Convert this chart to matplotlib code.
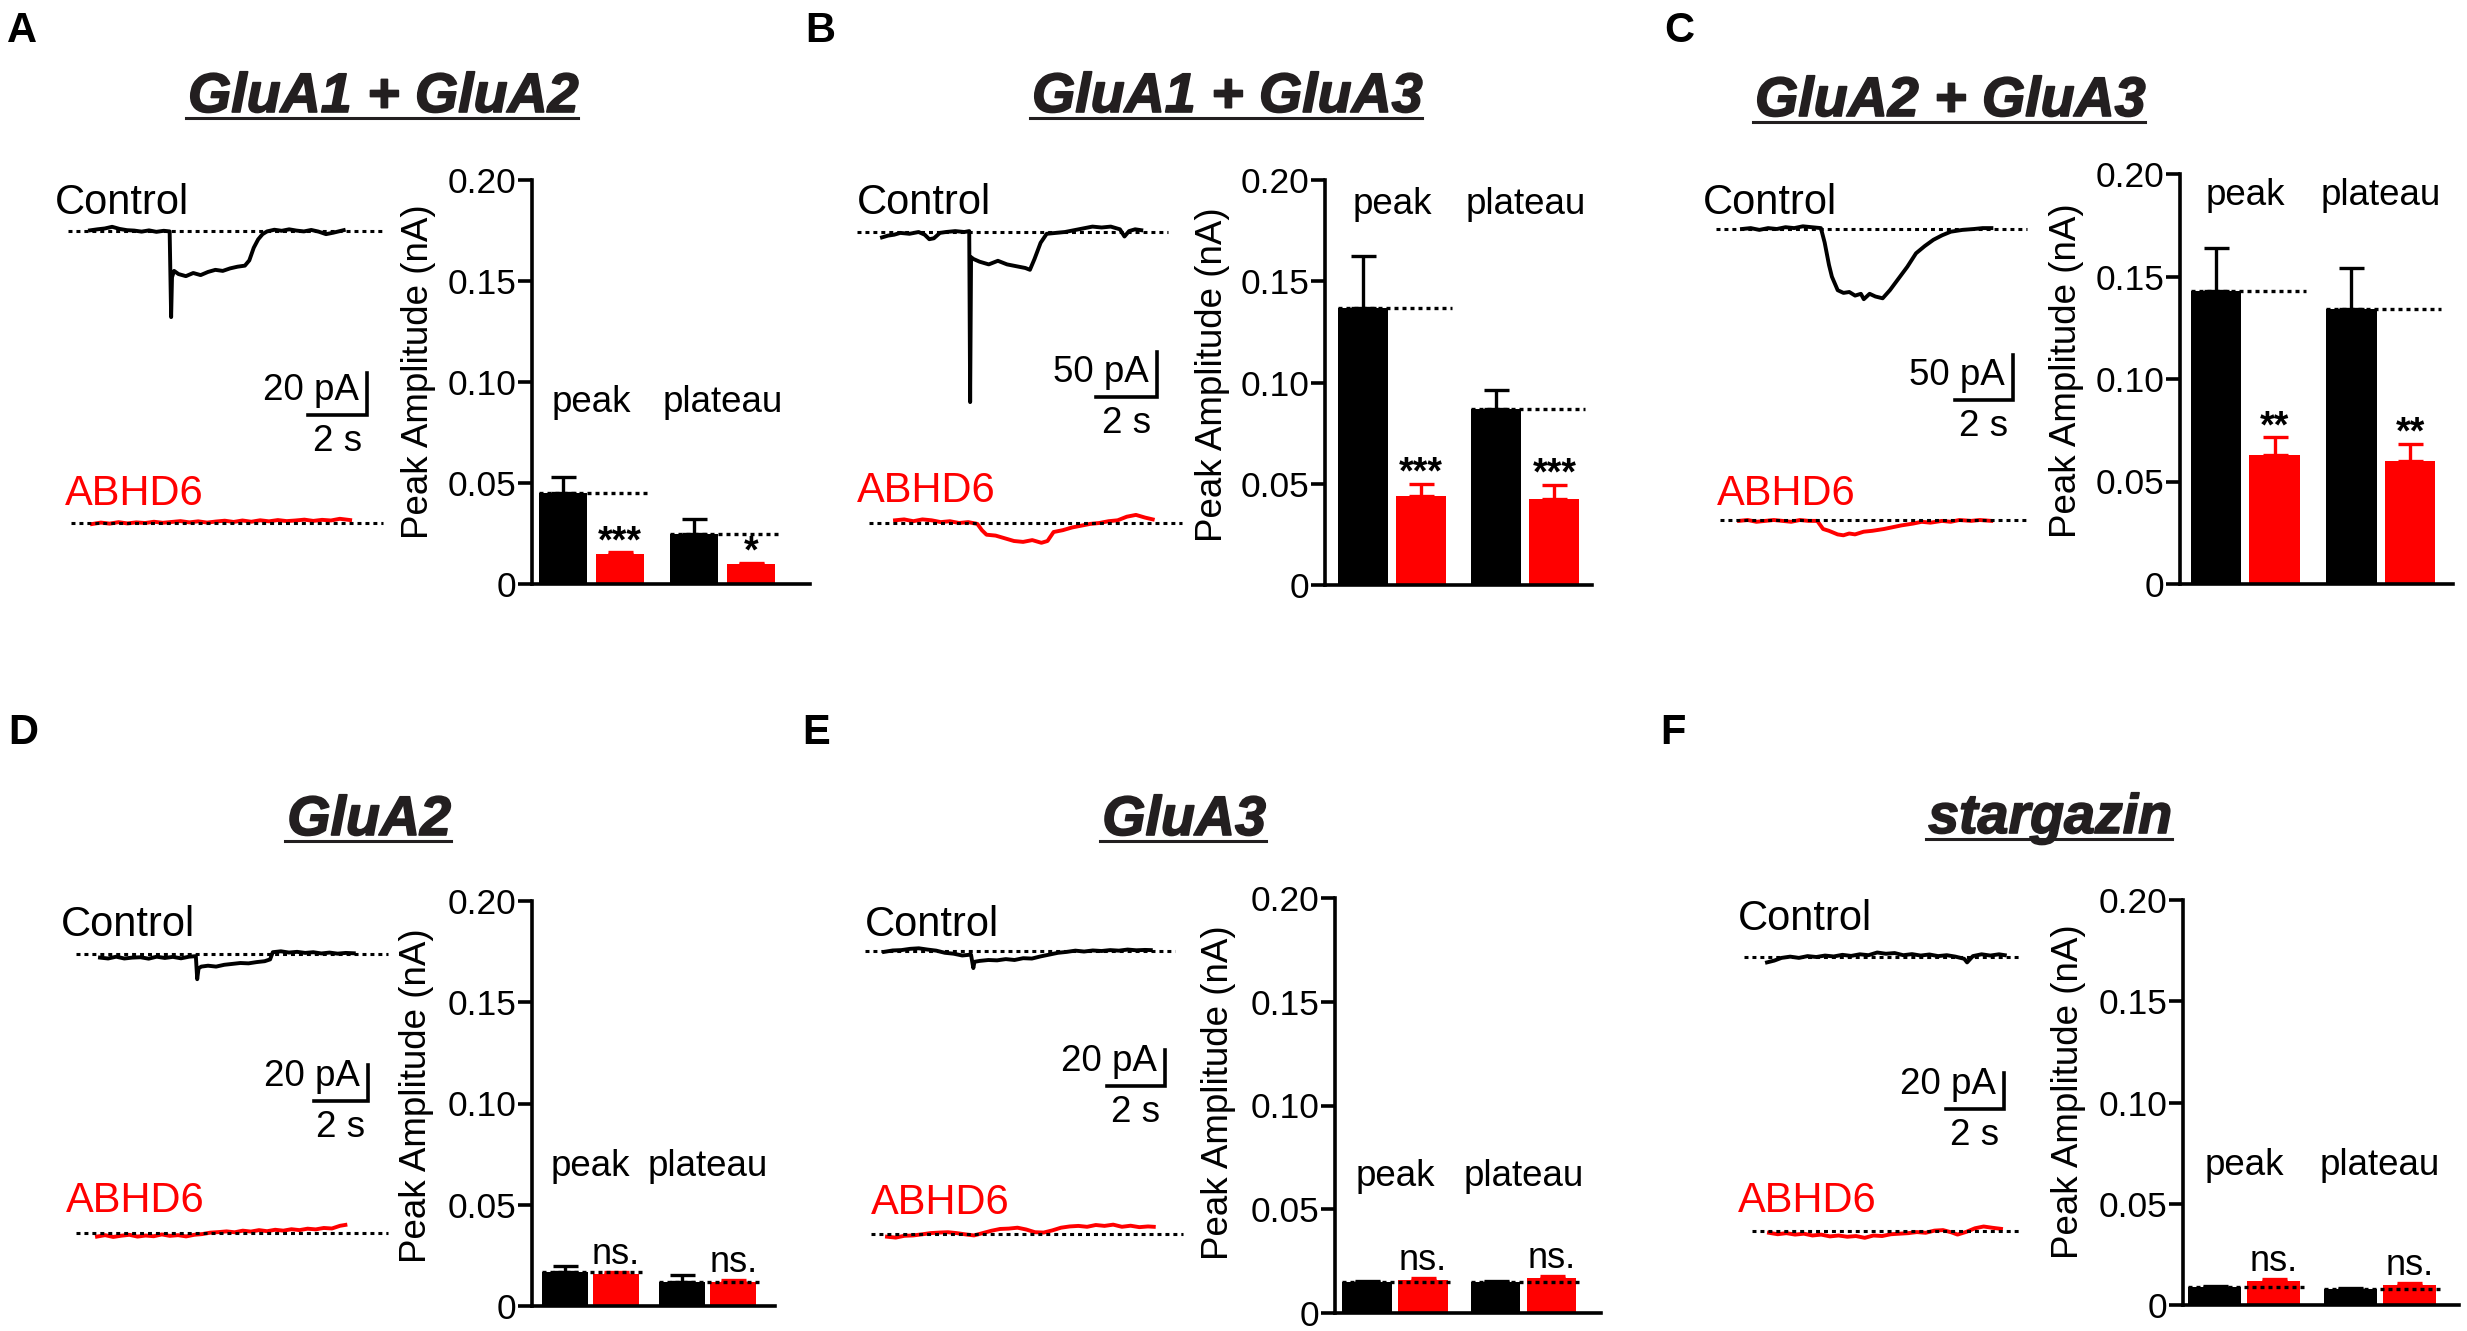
import numpy as np
import matplotlib
matplotlib.use('Agg')
import matplotlib.pyplot as plt
import matplotlib.patheffects as pe
from matplotlib.lines import Line2D

plt.rcParams['font.family'] = ['Liberation Sans', 'DejaVu Sans']

W, H = 2467, 1331
RED = '#ff0000'
INK = '#231f20'

panels = ['A', 'B', 'C', 'D', 'E', 'F']
titles = ['GluA1 + GluA2', 'GluA1 + GluA3', 'GluA2 + GluA3', 'GluA2', 'GluA3', 'stargazin']
groups = ['peak', 'plateau']

# bar data (nA), one value per panel A-F
ctrl_peak = [0.045, 0.137, 0.143, 0.017, 0.015, 0.009]
ctrl_peak_sem = [0.008, 0.0255, 0.021, 0.003, 0.0006, 0.0006]
abhd_peak = [0.015, 0.044, 0.063, 0.016, 0.016, 0.012]
abhd_peak_sem = [0.0006, 0.006, 0.0085, 0.0006, 0.0008, 0.0008]
ctrl_plat = [0.025, 0.087, 0.134, 0.012, 0.015, 0.008]
ctrl_plat_sem = [0.007, 0.0095, 0.020, 0.0033, 0.0006, 0.0006]
abhd_plat = [0.010, 0.0425, 0.060, 0.012, 0.017, 0.010]
abhd_plat_sem = [0.0006, 0.007, 0.0085, 0.0006, 0.0008, 0.0008]
sig_peak = ['***', '***', '**', 'ns.', 'ns.', 'ns.']
sig_plat = ['*', '***', '**', 'ns.', 'ns.', 'ns.']
yticks = [0, 0.05, 0.10, 0.15, 0.20]
yticklabels = ['0', '0.05', '0.10', '0.15', '0.20']

# example traces, (time s, current pA)
a_ctrl = [(0, .3), (.25, .8), (.5, 1.2), (.75, 2.0), (1.0, 1.0), (1.25, .4), (1.5, .2), (1.75, -.3),
          (2.0, .3), (2.25, -.4), (2.5, .1), (2.7, -.2), (2.75, -41), (2.78, -22), (2.85, -19),
          (3.0, -20.5), (3.25, -21.5), (3.5, -20), (3.75, -21), (4.0, -19.5), (4.25, -18.5),
          (4.5, -19), (4.75, -17.8), (5.0, -17), (5.25, -16.5), (5.4, -14), (5.55, -8), (5.7, -4),
          (5.85, -1.5), (6.0, -.2), (6.25, .6), (6.5, .1), (6.75, .8), (7.0, .2), (7.25, -.2),
          (7.5, .5), (7.75, -.3), (8.0, -1.5), (8.25, -.8), (8.6, .4)]
a_abhd = [(0, -.5), (.3, .2), (.6, -.3), (.9, .4), (1.2, -.2), (1.5, .3), (1.8, 0), (2.1, .6),
          (2.4, .1), (2.7, .5), (3.0, .9), (3.3, .3), (3.6, .8), (3.9, .2), (4.2, .7), (4.5, 1.1),
          (4.8, .5), (5.1, 1.2), (5.4, .6), (5.7, 1.3), (6.0, .8), (6.3, 1.4), (6.6, .9), (6.9, 1.2),
          (7.2, 1.6), (7.5, 1.0), (7.8, 1.5), (8.1, 1.2), (8.4, 2.0), (8.75, 1.4)]
b_ctrl = [(0, -6), (.2, -4), (.4, -3), (.6, -1), (.9, -2), (1.2, 0), (1.4, -3), (1.55, -8), (1.7, -7),
          (1.9, -1), (2.1, 0), (2.4, 1), (2.7, 0), (2.86, 1), (2.89, -189), (2.92, -28), (3.0, -30),
          (3.2, -33), (3.5, -36), (3.8, -32), (4.1, -36), (4.4, -38), (4.7, -40), (4.85, -42),
          (5.0, -30), (5.2, -12), (5.4, -2), (5.7, -1), (6.0, 0), (6.3, 2), (6.6, 4), (6.9, 6),
          (7.2, 5), (7.5, 6), (7.8, 3), (7.95, -5), (8.1, 1), (8.3, 3), (8.5, 2)]
b_abhd = [(0, 3), (.3, 4), (.6, 2), (.9, 4), (1.2, 3), (1.5, 1), (1.8, 2), (2.1, 0), (2.4, 1), (2.7, -1),
          (2.85, -8), (3.0, -13), (3.3, -14), (3.6, -17), (3.9, -20), (4.2, -21), (4.5, -19),
          (4.8, -22), (5.0, -20), (5.2, -10), (5.5, -8), (5.8, -5), (6.1, -3), (6.4, -1), (6.7, 0),
          (7.0, 2), (7.3, 3), (7.6, 7), (7.9, 9), (8.2, 6), (8.45, 4)]
c_ctrl = [(0, 0), (.3, 1), (.6, -1), (.9, 1), (1.2, 0), (1.5, 2), (1.8, 1), (2.1, 3), (2.4, 2),
          (2.72, 1), (2.85, -15), (3.0, -40), (3.1, -53), (3.3, -68), (3.5, -71), (3.7, -70),
          (3.9, -74), (4.1, -72), (4.2, -78), (4.4, -72), (4.6, -75), (4.85, -77), (5.1, -68),
          (5.4, -55), (5.7, -42), (6.0, -27), (6.3, -19), (6.6, -12), (6.9, -7), (7.2, -3),
          (7.6, -1), (8.0, 0), (8.3, 1), (8.6, 1)]
c_abhd = [(0, -1), (.3, 0), (.6, -2), (.9, -1), (1.2, 0), (1.5, -1), (1.8, -2), (2.1, 0), (2.4, -1),
          (2.7, -1), (2.9, -10), (3.1, -12), (3.4, -16), (3.6, -17), (3.8, -15), (4.0, -16),
          (4.3, -13), (4.6, -12), (5.0, -10), (5.3, -8), (5.6, -6), (6.0, -4), (6.3, -2), (6.6, -3),
          (7.0, -1), (7.3, -2), (7.6, 0), (8.0, -1), (8.3, 0), (8.7, -1)]
d_ctrl = [(0, -2), (.3, -2.5), (.6, -1.5), (.9, -2.5), (1.2, -2), (1.5, -1.8), (1.8, -2.6),
          (2.1, -1.5), (2.4, -2.2), (2.7, -1.6), (3.0, -2.4), (3.3, -1.5), (3.55, -1.2), (3.6, -14),
          (3.65, -8), (3.75, -7), (4.0, -6.5), (4.3, -7), (4.6, -6), (4.9, -5.5), (5.2, -5),
          (5.5, -5.2), (5.8, -4.5), (6.1, -4), (6.3, -3), (6.4, 1), (6.7, 1.5), (7.0, .8), (7.3, 1.2),
          (7.6, .6), (7.9, 1), (8.2, .3), (8.5, .8), (8.8, .2), (9.1, .6), (9.4, .4)]
d_abhd = [(0, -2), (.3, -1.2), (.6, -2.2), (.9, -1.5), (1.2, -1), (1.5, -2), (1.8, -1.4), (2.1, -1.8),
          (2.4, -.8), (2.7, -1.6), (3.0, -1.2), (3.3, -1.9), (3.6, -1), (3.9, -.6), (4.2, .2),
          (4.5, .5), (4.8, .9), (5.1, .4), (5.4, 1.3), (5.7, .8), (6.0, 1.6), (6.3, 1), (6.6, 1.8),
          (6.9, 1.3), (7.2, 2.1), (7.5, 1.6), (7.8, 2.4), (8.1, 2), (8.4, 2.8), (8.7, 2.5),
          (9.0, 4), (9.2, 4.5)]
e_ctrl = [(0, -.5), (.3, .3), (.6, .5), (.9, 1.2), (1.2, 1.5), (1.5, .8), (1.8, .2), (2.1, -1),
          (2.4, -1.5), (2.7, -2.5), (3.0, -2), (3.08, -9.5), (3.12, -6), (3.3, -5.5), (3.6, -5),
          (3.9, -5.2), (4.2, -4.5), (4.5, -5), (4.8, -4), (5.1, -4.2), (5.4, -3), (5.7, -2),
          (6.0, -1), (6.3, -.5), (6.6, .2), (6.9, -.3), (7.2, .3), (7.5, 0), (7.8, .5), (8.1, .2),
          (8.4, .8), (8.7, .4), (9.0, .6), (9.2, .5)]
e_abhd = [(0, -1.5), (.3, -2), (.6, -1), (.9, -.8), (1.2, -.2), (1.5, .5), (1.8, .8), (2.1, 1),
          (2.4, .5), (2.7, -.2), (3.0, -.8), (3.3, .5), (3.6, 1.8), (3.9, 2.8), (4.2, 3), (4.5, 3.5),
          (4.8, 2.5), (5.1, 1), (5.4, .8), (5.7, 2), (6.0, 3.5), (6.3, 4.2), (6.6, 4.5), (6.9, 4),
          (7.2, 5), (7.5, 4.5), (7.8, 5.2), (8.1, 4), (8.4, 4.6), (8.7, 3.8), (9.0, 4.2), (9.2, 4)]
f_ctrl = [(0, -3), (.25, -2), (.5, -.5), (.8, .2), (1.1, -.5), (1.4, .5), (1.7, 0), (2.0, .8),
          (2.3, .3), (2.6, 1.2), (2.9, .6), (3.2, 1.5), (3.5, 1), (3.8, 2.5), (4.1, 1.8), (4.4, 2.2),
          (4.7, 1), (5.0, 1.6), (5.3, .8), (5.6, 1.4), (5.9, .5), (6.2, 1), (6.5, .2), (6.8, -1),
          (6.9, -3), (7.1, .5), (7.4, 1.5), (7.7, .8), (8.0, 1.5), (8.2, 1)]
f_abhd = [(0, -1), (.3, -1.8), (.6, -1.2), (.9, -2), (1.2, -1.5), (1.5, -2.5), (1.8, -2), (2.1, -3),
          (2.4, -2.5), (2.7, -3.2), (3.0, -2.8), (3.3, -3.8), (3.6, -2.5), (3.9, -2.8), (4.2, -1.8),
          (4.5, -1.5), (4.8, -1.2), (5.1, -.6), (5.4, -1), (5.7, .2), (6.0, .5), (6.3, -.8),
          (6.5, -2), (6.8, -.5), (7.1, 1.5), (7.4, 2.5), (7.7, 1.8), (8.0, 1.2)]
ctrl_traces = [a_ctrl, b_ctrl, c_ctrl, d_ctrl, e_ctrl, f_ctrl]
abhd_traces = [a_abhd, b_abhd, c_abhd, d_abhd, e_abhd, f_abhd]
scale_pA = [20, 50, 50, 20, 20, 20]
scale_s = 2

# ---- layout (pixels, origin top left) ----
letter_xy = [(7, 42), (805, 42), (1664, 42), (8, 744), (802, 744), (1660, 744)]
title_xy = [(383, 112), (1227, 112), (1950, 116), (369, 835), (1184, 835), (2050, 833)]
bar_box = [(532, 180, 810, 584), (1325, 180, 1592, 585), (2180, 174, 2453, 584),
           (532, 901, 775, 1306), (1335, 898, 1601, 1313), (2183, 900, 2459, 1305)]
bar_xlim = [(-0.544, 4.33), (-0.655, 3.95), (-0.61, 4.03), (-0.65, 4.12), (-0.57, 4.18), (-0.54, 4.14)]
bar_w = [0.85, 0.86, 0.86, 0.9, 0.88, 0.9]
ylab_xy = [(418, 372), (1213, 375), (2066, 371), (417, 1096), (1218, 1093), (2069, 1092)]
group_y = [0.085, 0.183, 0.185, 0.064, 0.061, 0.064]
# trace origin (t=0, 0 pA) for control and ABHD6, px per s, px per pA
ctrl_org = [(90, 231), (882, 232), (1742, 229), (100, 954), (884, 951), (1767, 957)]
abhd_org = [(92, 523), (895, 523), (1739, 520), (97, 1233), (887, 1234), (1769, 1231)]
px_s = [29.5, 30.5, 29, 27, 29, 29]
px_pA = [2.1, 0.9, 0.9, 1.8, 1.8, 1.8]
ctrl_dots = [(-0.75, 9.9), (-0.82, 9.38), (-0.9, 9.83), (-0.89, 10.67), (-0.66, 10.03), (-0.79, 8.8)]
abhd_dots = [(-0.7, 9.85), (-0.85, 9.41), (-0.66, 9.97), (-0.78, 10.78), (-0.55, 10.2), (-0.59, 8.69)]
ctrl_lab = [(55, 214), (857, 214), (1703, 214), (61, 936), (865, 936), (1738, 930)]
abhd_lab = [(65, 505), (857, 502), (1717, 505), (66, 1212), (871, 1214), (1738, 1212)]
sbar_xy = [(367, 415), (1157, 397), (2013, 400), (368, 1101), (1165, 1086), (2004, 1109)]

fig = plt.figure(figsize=(W / 100, H / 100), dpi=100)


def px_rect(x0, y0, x1, y1):
    return [x0 / W, 1 - y1 / H, (x1 - x0) / W, (y1 - y0) / H]


def ftext(x, y, s, **kw):
    return fig.text(x / W, 1 - y / H, s, **kw)


def trace_axes(x0, y0, sx, sy):
    left, right, top, bot = x0 - 80, x0 + 380, y0 - 220, y0 + 220
    ax = fig.add_axes(px_rect(left, top, right, bot))
    ax.set_xlim((left - x0) / sx, (right - x0) / sx)
    ax.set_ylim(-(bot - y0) / sy, (y0 - top) / sy)
    ax.axis('off')
    ax.patch.set_visible(False)
    return ax


title_texts = []
for k, p in enumerate(panels):
    # panel letter and title
    ftext(*letter_xy[k], p, fontsize=30, fontweight='bold', ha='left', va='baseline')
    tt = ftext(*title_xy[k], titles[k], fontsize=40, fontweight='bold', fontstyle='italic',
               color=INK, ha='center', va='baseline',
               path_effects=[pe.withStroke(linewidth=1.2, foreground=INK)])
    title_texts.append((tt, title_xy[k][1]))

    # traces
    sx, sy = px_s[k], px_pA[k]
    axc = trace_axes(*ctrl_org[k], sx, sy)
    t, i = np.array(ctrl_traces[k]).T
    axc.plot(t, i, color='black', lw=2.8, clip_on=False, zorder=2)
    axc.plot(ctrl_dots[k], [0, 0], color='black', lw=2.2, ls=(0, (1.3, 1.3)), zorder=3)
    axa = trace_axes(*abhd_org[k], sx, sy)
    t, i = np.array(abhd_traces[k]).T
    axa.plot(t, i, color=RED, lw=2.8, clip_on=False, zorder=2)
    axa.plot(abhd_dots[k], [0, 0], color='black', lw=2.2, ls=(0, (1.3, 1.3)), zorder=3)

    # scale bar, drawn in control-trace data units
    cx, cy = sbar_xy[k]
    t0 = (cx - ctrl_org[k][0]) / sx
    i0 = -(cy - ctrl_org[k][1]) / sy
    axc.plot([t0 - scale_s, t0, t0], [i0, i0, i0 + scale_pA[k]], color='black', lw=2.6,
             solid_joinstyle='miter', clip_on=False)
    ftext(cx - 8, cy - 15, f'{scale_pA[k]} pA', fontsize=26.5, ha='right', va='baseline')
    ftext(cx - scale_s * sx / 2, cy + 36, f'{scale_s} s', fontsize=26.5, ha='center', va='baseline')

    ftext(*ctrl_lab[k], 'Control', fontsize=30, ha='left', va='baseline')
    ftext(*abhd_lab[k], 'ABHD6', fontsize=30, color=RED, ha='left', va='baseline')

    # bar chart
    ax = fig.add_axes(px_rect(*bar_box[k]))
    ax.patch.set_visible(False)
    pos = [0, 1, 2.3, 3.3]
    vals = [ctrl_peak[k], abhd_peak[k], ctrl_plat[k], abhd_plat[k]]
    sems = [ctrl_peak_sem[k], abhd_peak_sem[k], ctrl_plat_sem[k], abhd_plat_sem[k]]
    cols = ['black', RED, 'black', RED]
    bw = bar_w[k]
    ax.bar(pos, vals, width=bw, color=cols, zorder=2)
    for x, v, e, c in zip(pos, vals, sems, cols):
        ax.errorbar(x, v, yerr=[[0], [e]], fmt='none', ecolor=c, elinewidth=2.4,
                    capsize=9, capthick=2.4, zorder=1)
    for g in range(2):
        v = vals[2 * g]
        ax.plot([pos[2 * g] - bw / 2, pos[2 * g + 1] + bw / 2 + 0.1], [v, v], color='black',
                lw=2.4, ls=(0, (1.2, 1.2)), zorder=3)
        ax.text((pos[2 * g] + pos[2 * g + 1]) / 2, group_y[k], groups[g], fontsize=26.5,
                ha='center', va='baseline')
        sig = [sig_peak, sig_plat][g][k]
        top = vals[2 * g + 1] + sems[2 * g + 1]
        if sig == 'ns.':
            ax.text(pos[2 * g + 1], top + 0.004, sig, fontsize=26, ha='center', va='baseline')
        else:
            ax.text(pos[2 * g + 1], top, sig, fontsize=27, fontweight='bold',
                    ha='center', va='baseline')
    ax.set_xlim(*bar_xlim[k])
    ax.set_ylim(0, 0.2)
    ax.set_xticks([])
    ax.set_yticks(yticks)
    ax.set_yticklabels(yticklabels)
    ax.tick_params(axis='y', length=10, width=2.6, labelsize=25.5, pad=1)
    for s in ['top', 'right']:
        ax.spines[s].set_visible(False)
    for s in ['left', 'bottom']:
        ax.spines[s].set_linewidth(2.6)
    ax.spines['left'].set_capstyle('projecting')
    ftext(*ylab_xy[k], 'Peak Amplitude (nA)', fontsize=26.5, rotation=90, ha='center', va='center')

# underline the titles
fig.canvas.draw()
r = fig.canvas.get_renderer()
for tt, by in title_texts:
    bb = tt.get_window_extent(r)
    y = (H - by - 6) / H
    fig.add_artist(Line2D([bb.x0 / W - 0.001, bb.x1 / W], [y, y], color=INK, lw=2.2))

fig.savefig('out.png', dpi=100)
